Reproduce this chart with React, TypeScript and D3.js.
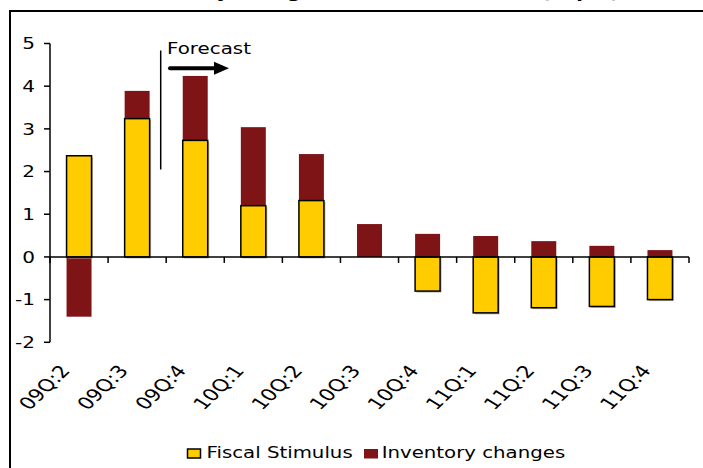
import React from 'react';
import * as d3 from 'd3';

const categories = ['09Q:2', '09Q:3', '09Q:4', '10Q:1', '10Q:2', '10Q:3', '10Q:4', '11Q:1', '11Q:2', '11Q:3', '11Q:4'];
const fiscalStimulus = [2.37, 3.24, 2.73, 1.2, 1.32, 0, -0.8, -1.31, -1.19, -1.16, -1.0];
const inventoryChanges = [-1.4, 0.65, 1.51, 1.84, 1.09, 0.77, 0.54, 0.49, 0.37, 0.26, 0.16];
const yTicks = [-2, -1, 0, 1, 2, 3, 4, 5];
const seriesNames = ['Fiscal Stimulus', 'Inventory changes'];
const titleText = 'Inventory changes and fiscal stimulus (% pts)';
const forecastLabel = 'Forecast';

const FONT = 'DejaVu Sans, Verdana, sans-serif';
const YELLOW = '#FFCC00';
const RED = '#7F1416';

type SProps = { x: number; y: number; sx?: number; size: number; anchor?: string; weight?: string | number; children: React.ReactNode };
const SText = ({ x, y, sx = 1.25, size, anchor = 'start', weight = 'normal', children }: SProps) => (
  <text
    transform={`translate(${x},${y}) scale(${sx},1)`}
    fontSize={size}
    fontFamily={FONT}
    fontWeight={weight}
    textAnchor={anchor}
    fill="#000"
  >
    {children}
  </text>
);

export default function App() {
  const W = 703;
  const H = 468;
  const x = d3.scaleBand<string>().domain(categories).range([50, 689]).paddingInner(0.57).paddingOuter(0.285);
  const y = d3.scaleLinear().domain([-2, 5]).range([342.3, 43.5]);

  const rows = categories.map((c, i) => ({ cat: c, fiscal: fiscalStimulus[i], inventory: inventoryChanges[i] }));
  const stack = d3.stack<any>().keys(['fiscal', 'inventory']).offset(d3.stackOffsetDiverging);
  const series = stack(rows);
  const fiscalS = series[0];
  const invS = series[1];
  const bw = x.bandwidth();
  const step = x.step();
  const x0 = x.range()[0];
  const x1 = x.range()[1];

  return (
    <div style={{ position: 'absolute', left: 0, top: 0 }}>
      <svg width={W} height={H} viewBox={`0 0 ${W} ${H}`} style={{ display: 'block', background: '#fff' }}>
        <rect x={0} y={0} width={W} height={H} fill="#fff" />
        {/* clipped title */}
        <SText x={372} y={-2} size={16} sx={1.2} anchor="middle" weight="bold">{titleText}</SText>
        {/* frame */}
        <path d={`M10,${H + 5} L10,11 L${W + 5},11`} fill="none" stroke="#000" strokeWidth={2} />

        {/* inventory bars */}
        {invS.map((d, i) => {
          const v0 = d[0], v1 = d[1];
          if (v0 === v1) return null;
          const top = y(Math.max(v0, v1));
          const bot = y(Math.min(v0, v1));
          return <rect key={'inv' + i} x={x(categories[i])} y={top} width={bw} height={bot - top} fill={RED} />;
        })}
        {/* fiscal bars */}
        {fiscalS.map((d, i) => {
          const v0 = d[0], v1 = d[1];
          if (v0 === v1) return null;
          const top = y(Math.max(v0, v1));
          const bot = y(Math.min(v0, v1));
          const bx = x(categories[i]) as number;
          return (
            <g key={'fis' + i}>
              <rect x={bx + 1.5} y={top + 1.5} width={bw} height={bot - top} fill="#b5b5b5" />
              <rect x={bx} y={top} width={bw} height={bot - top} fill={YELLOW} stroke="#000" strokeWidth={1.5} />
            </g>
          );
        })}

        {/* y axis */}
        <line x1={50} x2={50} y1={y(5)} y2={y(-2)} stroke="#000" strokeWidth={1.5} />
        {yTicks.map((t) => (
          <g key={'yt' + t}>
            <line x1={44} x2={50} y1={y(t)} y2={y(t)} stroke="#000" strokeWidth={1.5} />
            <SText x={35} y={y(t) + 5.8} size={16} sx={1.25} anchor="end">{t}</SText>
          </g>
        ))}
        {/* x axis */}
        <line x1={x0} x2={x1} y1={y(0)} y2={y(0)} stroke="#000" strokeWidth={1.5} />
        {d3.range(categories.length + 1).map((i) => (
          <line key={'xt' + i} x1={x0 + i * step} x2={x0 + i * step} y1={y(0)} y2={y(0) + 6} stroke="#000" strokeWidth={1.5} />
        ))}
        {categories.map((c) => {
          const cx = (x(c) as number) + bw / 2;
          return (
            <text
              key={'xl' + c}
              transform={`translate(${cx - 8},371) scale(1.28,1) rotate(-51)`}
              fontSize={17}
              fontFamily={FONT}
              textAnchor="end"
              fill="#000"
            >
              {c}
            </text>
          );
        })}

        {/* forecast marker */}
        <line x1={160.7} x2={160.7} y1={50.5} y2={169.5} stroke="#000" strokeWidth={1.5} />
        <SText x={167} y={54} size={16} sx={1.24}>{forecastLabel}</SText>
        <line x1={170} x2={216} y1={68.3} y2={68.3} stroke="#000" strokeWidth={4} strokeLinecap="round" />
        <path d="M214,61.8 L229,68.3 L214,74.8 Z" fill="#000" />

        {/* legend */}
        <rect x={187.5} y={449} width={13} height={9} fill={YELLOW} stroke="#000" strokeWidth={1.5} />
        <SText x={206.5} y={457.5} size={15.2} sx={1.3}>{seriesNames[0]}</SText>
        <rect x={364} y={449} width={14} height={9.5} fill={RED} />
        <SText x={381.7} y={457.5} size={15.2} sx={1.3}>{seriesNames[1]}</SText>
      </svg>
    </div>
  );
}
